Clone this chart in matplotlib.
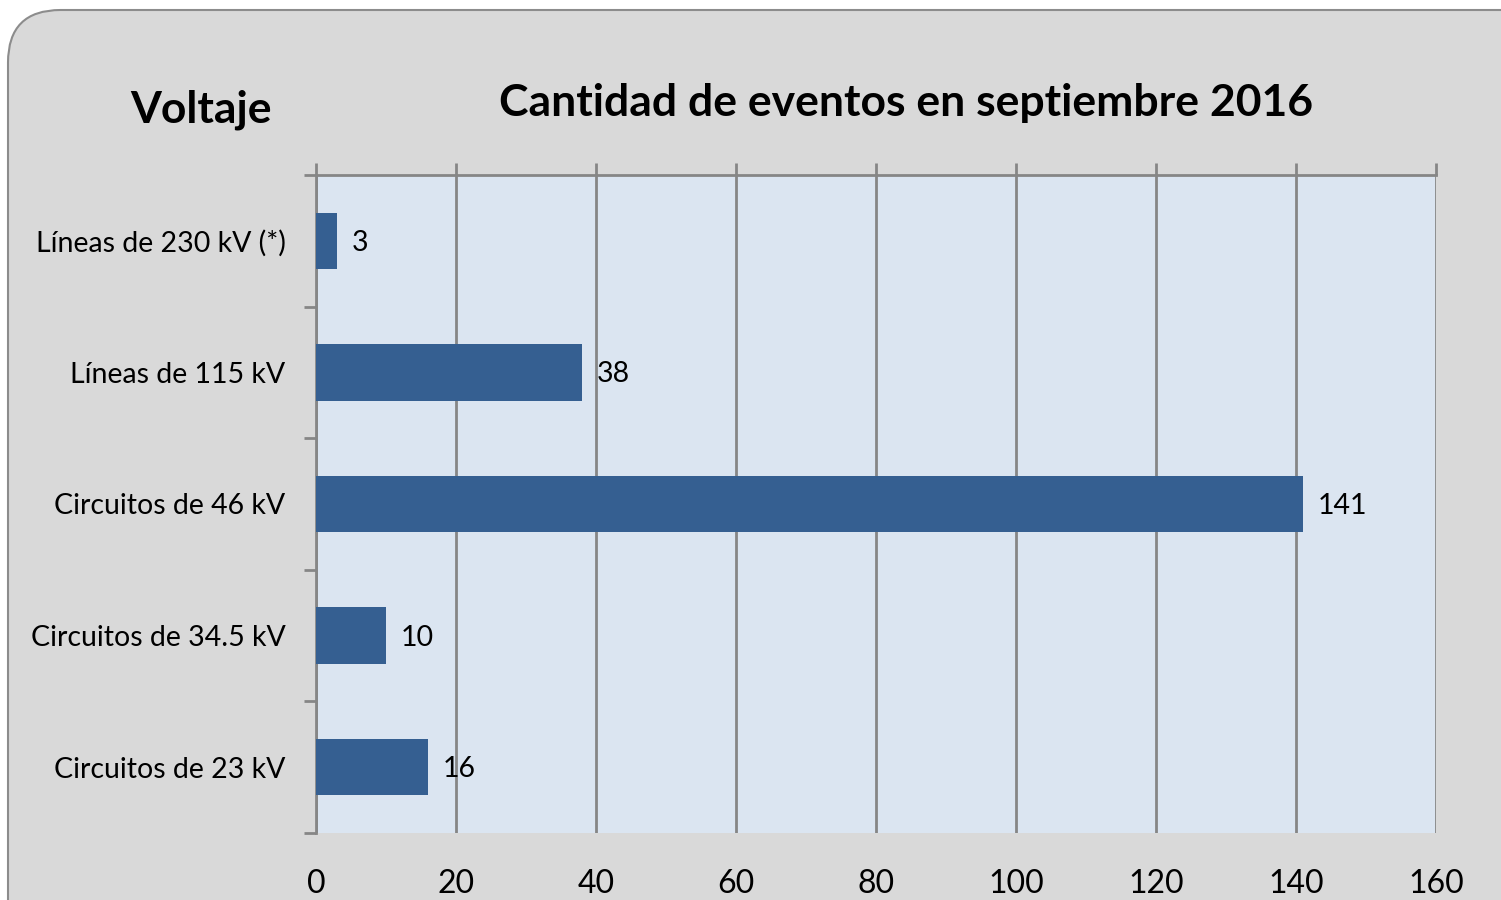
import matplotlib.pyplot as plt
from matplotlib.patches import FancyBboxPatch
from matplotlib.ticker import FixedLocator

categories = ["Líneas de 230 kV (*)", "Líneas de 115 kV", "Circuitos de 46 kV",
              "Circuitos de 34.5 kV", "Circuitos de 23 kV"]
eventos = [3, 38, 141, 10, 16]
xticks = [0, 20, 40, 60, 80, 100, 120, 140, 160]

plt.rcParams["font.family"] = ["Lato", "DejaVu Sans"]

fig = plt.figure(figsize=(15.01, 9), dpi=100)
fig.patch.set_facecolor("white")

# marco gris redondeado
frame = FancyBboxPatch((8 / 1501, -0.1), 1.2, 1.1 - 10 / 900,
                       boxstyle="round,pad=0,rounding_size=0.035",
                       transform=fig.transFigure, facecolor="#D9D9D9",
                       edgecolor="#8C8C8C", linewidth=1.5, zorder=-5,
                       mutation_aspect=1501 / 900)
fig.patches.append(frame)

ax = fig.add_axes([316 / 1501, 1 - 833 / 900, 1120 / 1501, 658 / 900])
ax.set_zorder(1)
ax.set_facecolor("#DBE5F1")

y = list(range(len(categories)))
ax.barh(y, eventos, height=0.43, color="#355F91", zorder=3)
for yi, v in zip(y, eventos):
    ax.annotate(str(v), (v, yi), xytext=(15, -2), textcoords="offset pixels",
                va="center", ha="left", fontsize=20.5, color="black")

ax.set_xlim(0, 160)
ax.set_ylim(len(categories) - 0.5, -0.5)

ax.xaxis.set_major_locator(FixedLocator(xticks))
ax.set_xticklabels([str(t) for t in xticks])
ax.tick_params(axis="x", top=True, bottom=False, labeltop=False, labelbottom=True,
               direction="out", length=9, width=2, color="#868686",
               labelsize=23, pad=17)
ax.grid(axis="x", color="#868686", linewidth=2, zorder=1)

ax.set_yticks(y)
ax.set_yticklabels(categories)
ax.yaxis.set_minor_locator(FixedLocator([i - 0.5 for i in range(len(categories) + 1)]))
ax.tick_params(axis="y", which="major", length=0, labelsize=20.5, pad=22)
ax.tick_params(axis="y", which="minor", length=9, width=2, color="#868686", direction="out")

for side in ["left", "top"]:
    ax.spines[side].set_color("#868686")
    ax.spines[side].set_linewidth(2)
ax.spines["bottom"].set_visible(False)
ax.spines["right"].set_visible(False)

fig.text(201 / 1501, 1 - 110 / 900, "Voltaje", fontsize=32, fontweight="bold",
         ha="center", va="center")
fig.text(906 / 1501, 1 - 103 / 900, "Cantidad de eventos en septiembre 2016",
         fontsize=32, fontweight="bold", ha="center", va="center")

fig.savefig("out.png", dpi=100)
